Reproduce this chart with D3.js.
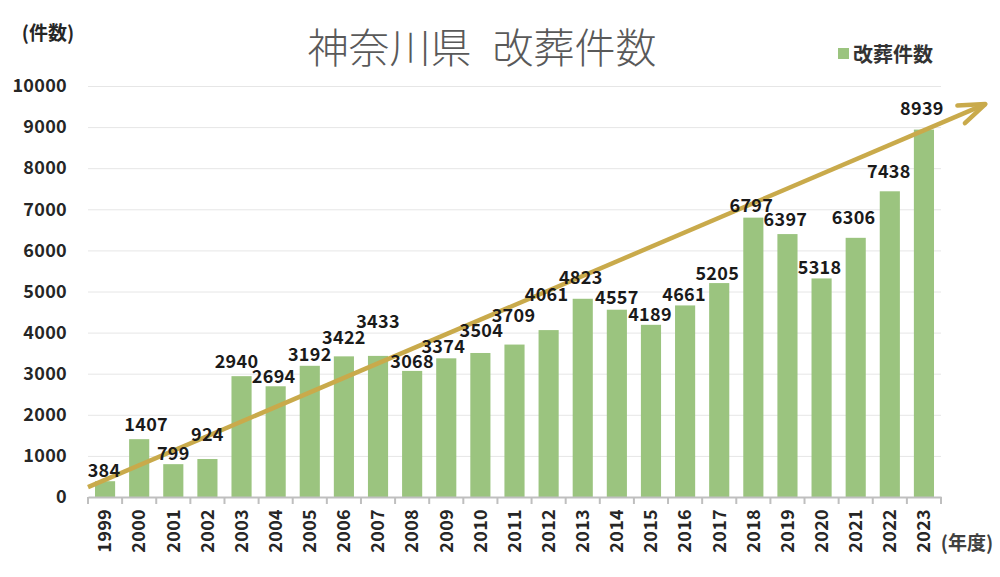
<!DOCTYPE html>
<html><head><meta charset="utf-8">
<script src="https://cdn.jsdelivr.net/npm/d3@7"></script>
<style>body{margin:0;background:#fff}svg{display:block}</style>
</head><body><svg id="c" width="1000" height="577"></svg>
<script>
const years = ["1999","2000","2001","2002","2003","2004","2005","2006","2007","2008","2009","2010","2011","2012","2013","2014","2015","2016","2017","2018","2019","2020","2021","2022","2023"];
const counts = [384,1407,799,924,2940,2694,3192,3422,3433,3068,3374,3504,3709,4061,4823,4557,4189,4661,5205,6797,6397,5318,6306,7438,8939];
const yTicks = [0,1000,2000,3000,4000,5000,6000,7000,8000,9000,10000];
const titleParts = ["神奈川県", " 改葬件数"];
const seriesName = "改葬件数";
const yUnit = "(件数)";
const xUnit = "(年度)";
// trend arrow: [position in category slots from left edge, value]
const trendStart = [0, 240];
const trendEnd = [26.3, 9560];
// manual placement of each data label, as in the original (px)
const labelLift = [0,4,0,14,4,-1,1,8,24,-1,1,12,19,25,11,2,0,0,-1,2,4,0,10,9,11];
const labelShift = [-1,7,0,0,-5,-2,0,0,0,0,-3,1,-1,-2,-2,0,-1,-1,-2,-2,-2,-2,-2,-1,-2];

(function () {
const FONT = "'Noto Sans CJK JP','Noto Sans',sans-serif";
const barColor = "#9bc47f";
const arrowColor = "#c9aa4b";
const pLeft = 88, pRight = 941, pTop = 86, pBottom = 497;
const numSize = 18;

const svg = d3.select("#c").style("font-family", FONT);

const x = d3.scaleBand().domain(years).range([pLeft, pRight]).paddingInner(0.41).paddingOuter(0.205);
const xLin = d3.scaleLinear().domain([0, years.length]).range([pLeft, pRight]);
const y = d3.scaleLinear().domain([0, 10000]).range([pBottom, pTop]);

// gridlines
const grid = svg.append("g").attr("transform", `translate(${pLeft},0)`)
  .call(d3.axisLeft(y).tickValues(yTicks.filter(d => d > 0)).tickSize(-(pRight - pLeft)).tickFormat(""));
grid.select(".domain").remove();
grid.selectAll("line").attr("stroke", "#e6e6e6").attr("stroke-width", 1);

// y axis labels
const ya = svg.append("g").attr("transform", `translate(${pLeft},0)`)
  .call(d3.axisLeft(y).tickValues(yTicks).tickSize(0).tickPadding(21).tickFormat(d3.format("d")));
ya.select(".domain").remove();
ya.selectAll("text").attr("font-family", FONT).attr("font-size", numSize).attr("font-weight", "bold").attr("fill", "#262626")
  .attr("letter-spacing", 0.3);

// bars
svg.append("g").selectAll("rect").data(counts).join("rect")
  .attr("x", (d, i) => x(years[i])).attr("width", x.bandwidth())
  .attr("y", d => y(d)).attr("height", d => y(0) - y(d))
  .attr("fill", barColor);

// x axis
const xa = svg.append("g").attr("transform", `translate(0,${pBottom})`)
  .call(d3.axisBottom(x).tickSize(0));
xa.select(".domain").attr("stroke", "#bfbfbf").attr("stroke-width", 2);
xa.selectAll("text").attr("font-family", FONT).attr("font-size", numSize).attr("font-weight", "bold").attr("fill", "#262626")
  .attr("letter-spacing", 0.3)
  .attr("transform", "rotate(-90)").attr("x", -12).attr("y", 0).attr("dy", "0.35em").style("text-anchor", "end");
svg.append("g").selectAll("line").data(d3.range(years.length + 1)).join("line")
  .attr("x1", d => xLin(d)).attr("x2", d => xLin(d))
  .attr("y1", pBottom).attr("y2", pBottom + 7)
  .attr("stroke", "#bfbfbf").attr("stroke-width", 2);

// trend arrow (behind labels)
const x0 = xLin(trendStart[0]), y0 = y(trendStart[1]);
const x1 = xLin(trendEnd[0]), y1 = y(trendEnd[1]);
const ang = Math.atan2(y1 - y0, x1 - x0);
const headLen = 28, headAng = 20 * Math.PI / 180;
const aw = svg.append("g").attr("stroke", arrowColor).attr("stroke-width", 4.5).attr("fill", "none").attr("stroke-linecap", "round").attr("stroke-linejoin", "round");
aw.append("line").attr("x1", x0).attr("y1", y0).attr("x2", x1).attr("y2", y1).attr("stroke-linecap", "butt");
aw.append("path").attr("d", d3.line()([
  [x1 - headLen * Math.cos(ang - headAng), y1 - headLen * Math.sin(ang - headAng)],
  [x1, y1],
  [x1 - headLen * Math.cos(ang + headAng), y1 - headLen * Math.sin(ang + headAng)]
]));

// data labels
svg.append("g").selectAll("text").data(counts).join("text")
  .attr("x", (d, i) => x(years[i]) + x.bandwidth() / 2 + labelShift[i])
  .attr("y", (d, i) => y(d) - 12 - labelLift[i])
  .attr("dominant-baseline", "central").attr("text-anchor", "middle")
  .attr("font-size", numSize).attr("font-weight", "bold").attr("fill", "#1a1a1a")
  .attr("letter-spacing", 0.3)
  .text(d => d);

// title
const t = svg.append("text").attr("x", 482).attr("y", 45).attr("text-anchor", "middle").attr("dominant-baseline", "central")
  .attr("font-size", 41).attr("font-weight", 300).attr("fill", "#595959");
t.append("tspan").text(titleParts[0]);
t.append("tspan").attr("dx", 12).text(titleParts[1]);

// legend
svg.append("rect").attr("x", 838).attr("y", 48).attr("width", 11).attr("height", 11).attr("fill", barColor);
svg.append("text").attr("x", 853).attr("y", 53).attr("dominant-baseline", "central")
  .attr("font-size", 20).attr("font-weight", "bold").attr("fill", "#333").text(seriesName);

// unit labels
svg.append("text").attr("x", 48).attr("y", 31).attr("text-anchor", "middle").attr("dominant-baseline", "central")
  .attr("font-size", 19).attr("font-weight", "bold").attr("fill", "#262626").text(yUnit);
svg.append("text").attr("x", 967).attr("y", 541).attr("text-anchor", "middle").attr("dominant-baseline", "central")
  .attr("font-size", 19).attr("font-weight", "bold").attr("fill", "#404040").text(xUnit);
})();
</script></body></html>
